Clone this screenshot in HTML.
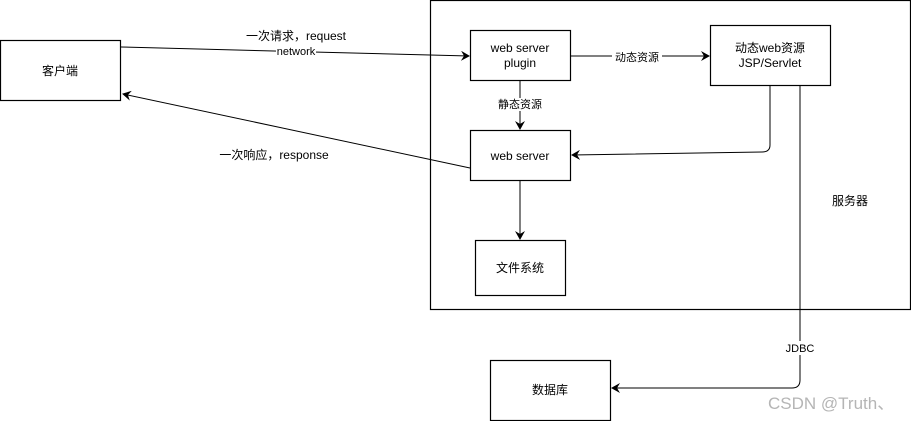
<!DOCTYPE html>
<html><head><meta charset="utf-8"><style>
body{margin:0;background:#fff;}
svg text{font-family:"Liberation Sans","Noto Sans CJK SC",sans-serif;font-size:12px;fill:#000;}
</style></head><body>
<svg width="911" height="421" viewBox="0 0 911 421" xmlns="http://www.w3.org/2000/svg">
<defs><marker id="a" markerWidth="10" markerHeight="10" refX="8" refY="5" orient="auto" markerUnits="userSpaceOnUse"><path d="M0,0 L9,5 L0,10 L3,5 Z" fill="#000"/></marker></defs>
<g fill="#fff" stroke="#000" stroke-width="1.2">
<rect x="430.5" y="0.5" width="480" height="309"/>
<rect x="0.5" y="40.5" width="120" height="60"/>
<rect x="470.5" y="30.5" width="100" height="50"/>
<rect x="710.5" y="25.5" width="120" height="60"/>
<rect x="470.5" y="130.5" width="100" height="50"/>
<rect x="475.5" y="240.5" width="90" height="55"/>
<rect x="490.5" y="360.5" width="120" height="60"/>
</g>
<g fill="none" stroke="#000" stroke-width="1">
<path d="M121,47 L469,56" marker-end="url(#a)"/>
<path d="M571,56 L709,56" marker-end="url(#a)"/>
<path d="M520,81 L520,129" marker-end="url(#a)"/>
<path d="M770,86 L770,145 Q770,152 762,152 L572,155" marker-end="url(#a)"/>
<path d="M470,168 L123,94" marker-end="url(#a)"/>
<path d="M520,181 L520,239" marker-end="url(#a)"/>
<path d="M800,86 L800,380 Q800,388 792,388 L612,388" marker-end="url(#a)"/>
</g>
<rect x="276" y="45" width="40" height="12" fill="#fff"/>
<text x="296" y="55" text-anchor="middle" font-size="11" style="font-size:11px">network</text>
<text x="296" y="40" text-anchor="middle">一次请求，request</text>
<text x="274" y="159" text-anchor="middle">一次响应，response</text>
<text x="60" y="75" text-anchor="middle">客户端</text>
<text x="520" y="52" text-anchor="middle">web server</text>
<text x="520" y="67" text-anchor="middle">plugin</text>
<rect x="612" y="50" width="50" height="13" fill="#fff"/>
<text x="637" y="61" text-anchor="middle" style="font-size:11px">动态资源</text>
<text x="770" y="52" text-anchor="middle">动态web资源</text>
<text x="770" y="67" text-anchor="middle">JSP/Servlet</text>
<rect x="494" y="98" width="52" height="13" fill="#fff"/>
<text x="520" y="108" text-anchor="middle" style="font-size:11px">静态资源</text>
<text x="520" y="160" text-anchor="middle">web server</text>
<text x="520" y="272" text-anchor="middle">文件系统</text>
<text x="550" y="394" text-anchor="middle">数据库</text>
<text x="850" y="205" text-anchor="middle">服务器</text>
<rect x="784" y="341" width="32" height="14" fill="#fff"/>
<text x="800" y="352" text-anchor="middle" style="font-size:11px">JDBC</text>
<text x="768" y="409" style="font-size:17px;fill:#b5b5b5">CSDN @Truth、</text>
</svg>
</body></html>
